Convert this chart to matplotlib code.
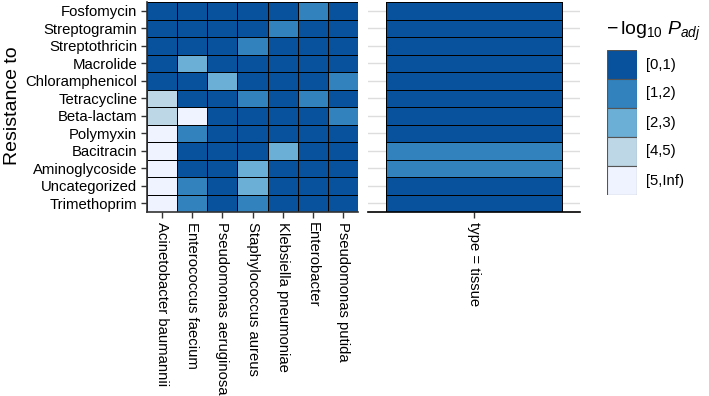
import matplotlib
matplotlib.use("Agg")
import matplotlib.pyplot as plt
import numpy as np
from matplotlib.colors import ListedColormap, BoundaryNorm
from matplotlib.patches import Rectangle

plt.rcParams['font.family'] = ['Liberation Sans', 'DejaVu Sans']
plt.rcParams['mathtext.fontset'] = 'custom'
plt.rcParams['mathtext.rm'] = 'Liberation Sans'
plt.rcParams['mathtext.it'] = 'Liberation Sans:italic'

# --- data ---
resistances = ['Fosfomycin', 'Streptogramin', 'Streptothricin', 'Macrolide',
               'Chloramphenicol', 'Tetracycline', 'Beta-lactam', 'Polymyxin',
               'Bacitracin', 'Aminoglycoside', 'Uncategorized', 'Trimethoprim']
species = ['Acinetobacter baumannii', 'Enterococcus faecium', 'Pseudomonas aeruginosa',
           'Staphylococcus aureus', 'Klebsiella pneumoniae', 'Enterobacter',
           'Pseudomonas putida']
levels = ['[0,1)', '[1,2)', '[2,3)', '[4,5)', '[5,Inf)']
level_colors = ['#08519C', '#3182BD', '#6BAED6', '#BDD7E7', '#EFF3FF']

# level index per resistance (rows) x species (cols)
species_levels = [
    [0, 0, 0, 0, 0, 1, 0],
    [0, 0, 0, 0, 1, 0, 0],
    [0, 0, 0, 1, 0, 0, 0],
    [0, 2, 0, 0, 0, 0, 0],
    [0, 0, 2, 0, 0, 0, 1],
    [3, 0, 0, 1, 0, 1, 0],
    [3, 4, 0, 0, 0, 0, 1],
    [4, 1, 0, 0, 0, 0, 0],
    [4, 0, 0, 0, 2, 0, 0],
    [4, 0, 0, 2, 0, 0, 0],
    [4, 1, 0, 2, 0, 0, 0],
    [4, 1, 0, 1, 0, 0, 0],
]
type_label = ['type = tissue']
type_levels = [0, 0, 0, 0, 0, 0, 0, 0, 1, 1, 0, 0]

cmap = ListedColormap(level_colors)
norm = BoundaryNorm(np.arange(-0.5, len(levels)), cmap.N)

fig = plt.figure(figsize=(7.09, 3.96), dpi=100)
W, H = 709, 396

def px_axes(x0, y0, x1, y1):
    return fig.add_axes([x0 / W, 1 - y1 / H, (x1 - x0) / W, (y1 - y0) / H])

axis_col = '#333333'
nrow = len(resistances)
fs = 10.7

# --- left panel: species ---
ax1 = px_axes(147, 2, 358, 212)
m1 = np.array(species_levels)
ax1.pcolormesh(np.arange(len(species) + 1) - 0.5, np.arange(nrow + 1) - 0.5, m1,
               cmap=cmap, norm=norm, edgecolors='black', linewidth=0.7)
ax1.set_xlim(-0.5, len(species) - 0.5)
ax1.set_ylim(nrow - 0.5, -0.5)
ax1.set_xticks(range(len(species)))
ax1.set_xticklabels(species, rotation=-90, ha='center', va='top', fontsize=fs)
ax1.set_yticks(range(nrow))
ax1.set_yticklabels(resistances, fontsize=fs)
for s in ['top', 'right']:
    ax1.spines[s].set_visible(False)
for s in ['left', 'bottom']:
    ax1.spines[s].set_color(axis_col)
    ax1.spines[s].set_linewidth(1.2)
ax1.tick_params(length=4, width=1, color=axis_col, labelcolor='black', pad=3)
fig.text(13 / W, 1 - 106 / H, 'Resistance to', rotation=90, fontsize=14,
         ha='center', va='center')

# --- right panel: type ---
ax2 = px_axes(368, 2, 580, 212)
for y in range(nrow):
    ax2.axhline(y, color='#DDDDDD', lw=1, zorder=0)
m2 = np.array(type_levels).reshape(-1, 1)
ax2.pcolormesh([0.5, 1.5], np.arange(nrow + 1) - 0.5, m2,
               cmap=cmap, norm=norm, edgecolors='black', linewidth=0.7, zorder=2)
ax2.set_xlim(0.4, 1.6)
ax2.set_ylim(nrow - 0.5, -0.5)
ax2.set_xticks([1])
ax2.set_xticklabels(type_label, rotation=-90, ha='center', va='top', fontsize=fs)
ax2.set_yticks([])
for s in ['top', 'right', 'left']:
    ax2.spines[s].set_visible(False)
ax2.spines['bottom'].set_color('black')
ax2.spines['bottom'].set_linewidth(1.2)
ax2.tick_params(length=4, width=1, color=axis_col, pad=3)

# --- legend ---
fig.text(606 / W, 1 - 31 / H, r'$-\,\log_{10}\,P_{adj}$', fontsize=14,
         ha='left', va='center')
axl = px_axes(607, 50, 637, 195)
for i, (lab, col) in enumerate(zip(levels, level_colors)):
    axl.add_patch(Rectangle((0, i), 1, 1, facecolor=col, edgecolor='#555555', lw=0.8))
    axl.text(1.3, i + 0.5, lab, ha='left', va='center', fontsize=fs,
             transform=axl.transData, clip_on=False)
axl.set_xlim(0, 1)
axl.set_ylim(len(levels), 0)
axl.axis('off')

fig.savefig('out.png', dpi=100)
